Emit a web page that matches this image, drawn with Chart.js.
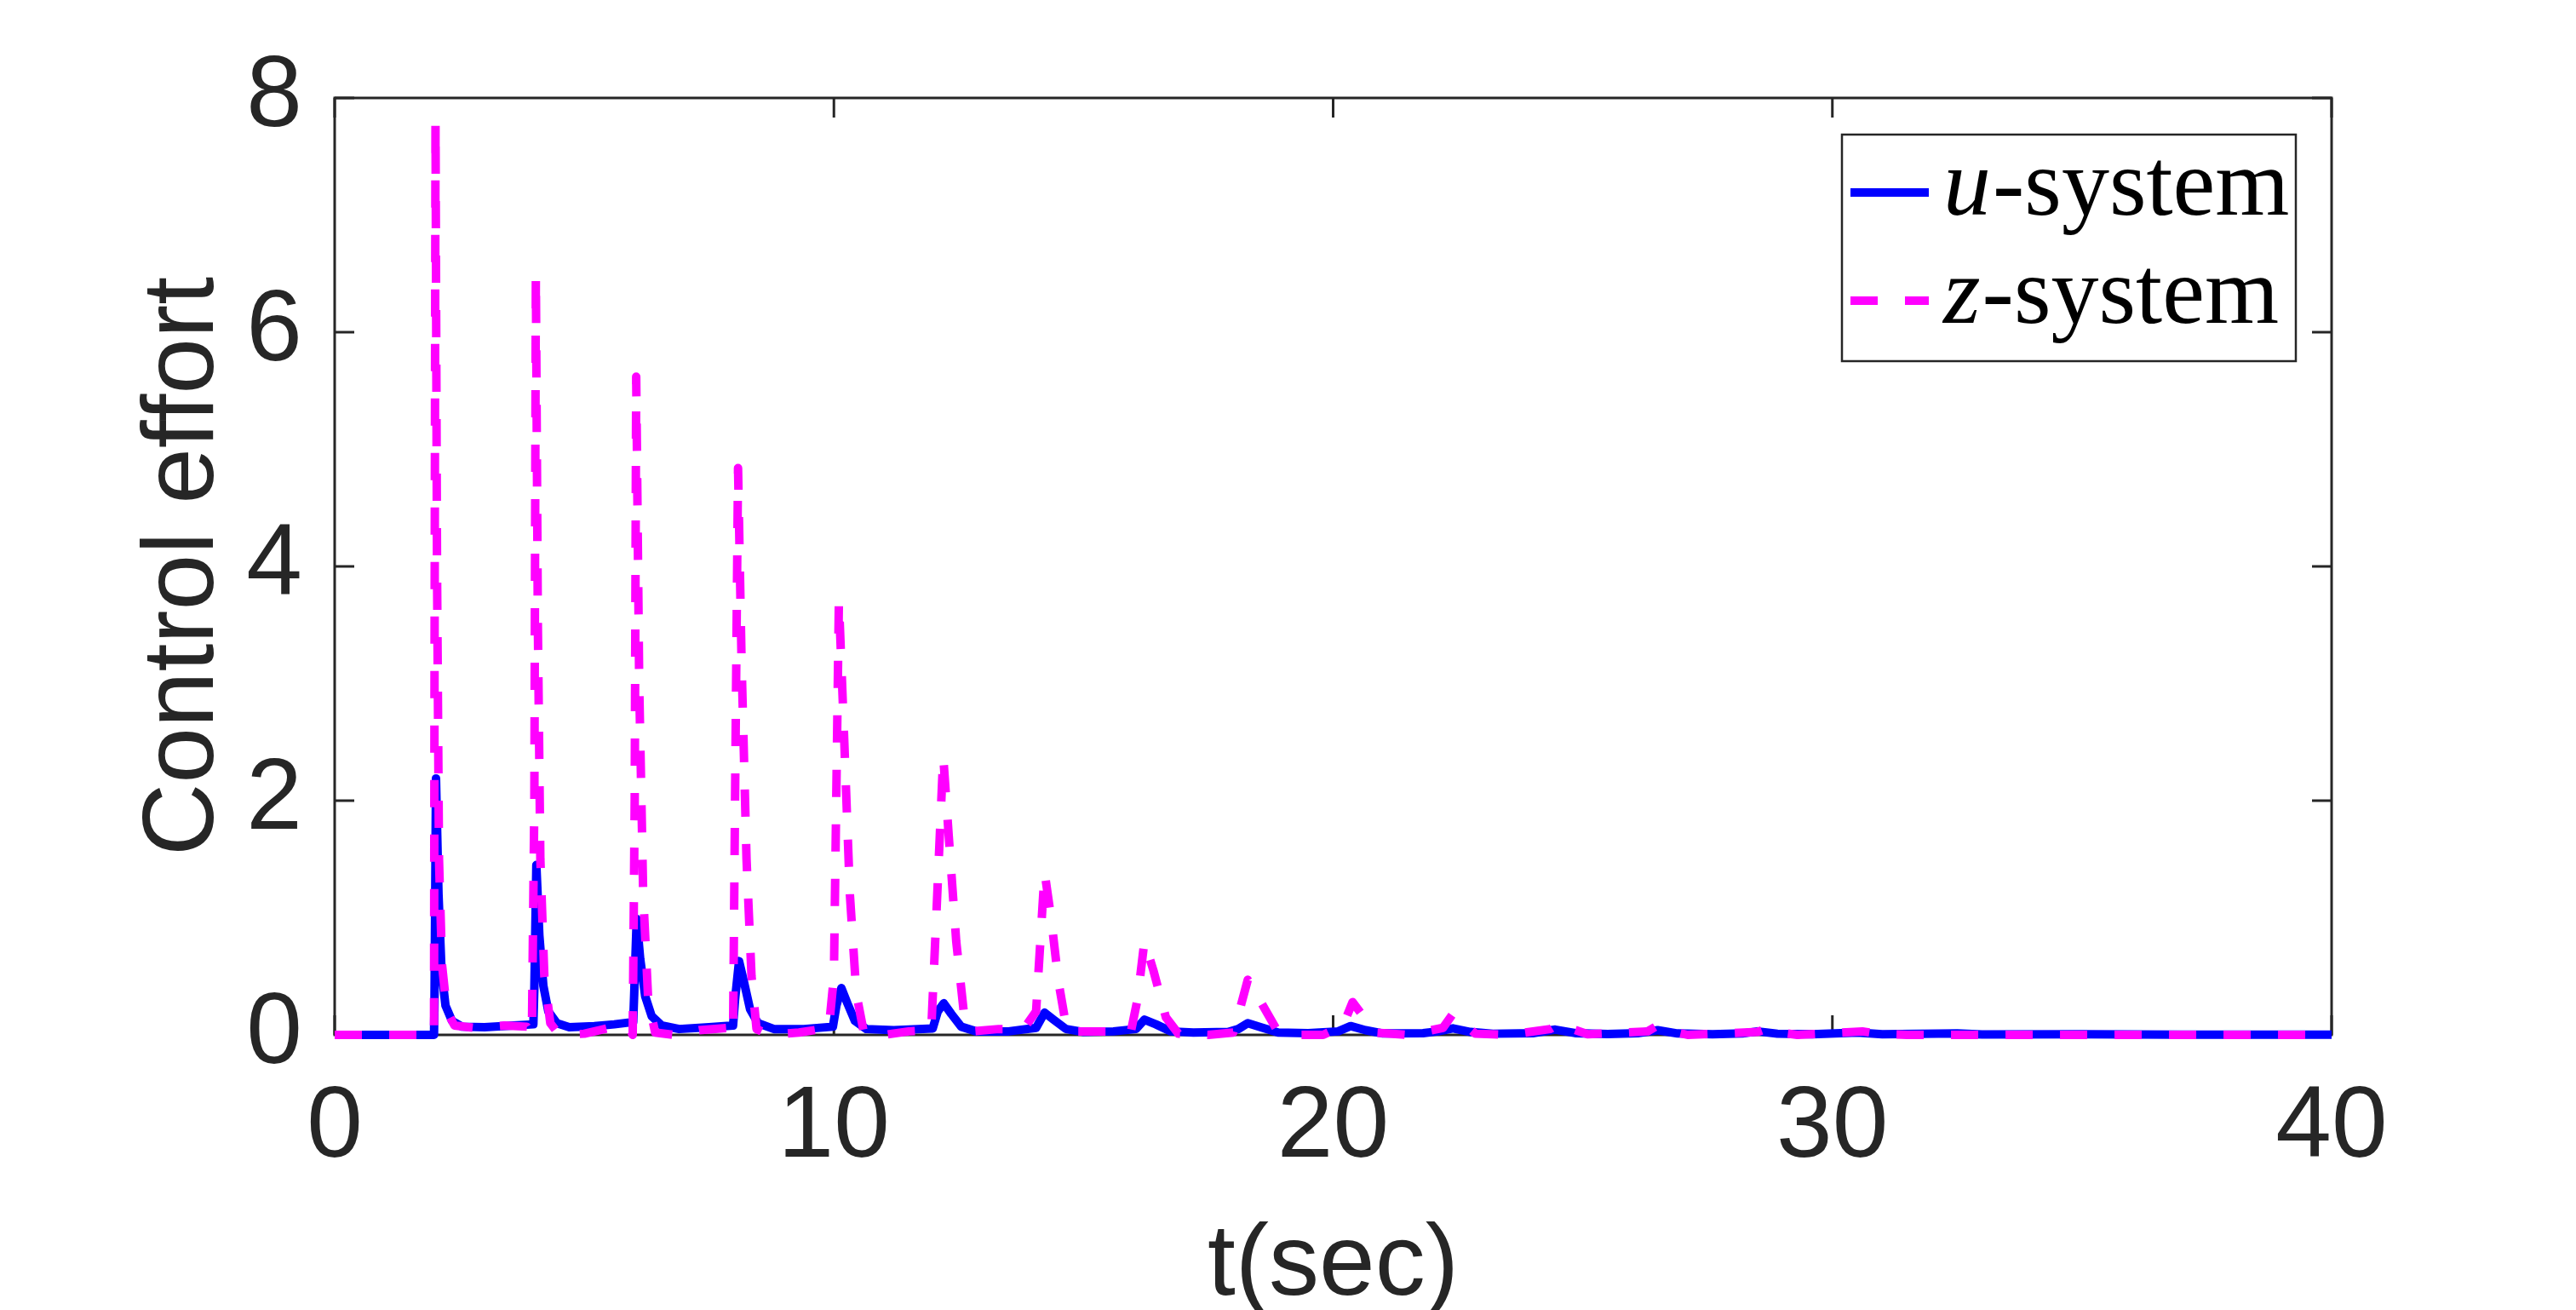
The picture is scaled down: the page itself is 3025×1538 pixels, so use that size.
<!DOCTYPE html>
<html>
<head>
<meta charset="utf-8">
<script src="https://cdn.jsdelivr.net/npm/chart.js@4.4.1/dist/chart.umd.min.js"></script>
<style>
  html, body { margin: 0; padding: 0; background: #fff; }
  canvas { display: block; }
</style>
</head>
<body>
<canvas id="myChart" width="3025" height="1538"></canvas>
<script>
// Valeurs
const uTime = [0, 1.99, 2.00, 2.03, 2.08, 2.14, 2.22, 2.35, 2.55, 3.0, 3.5, 3.98,
  4.00, 4.04, 4.10, 4.18, 4.28, 4.45, 4.7, 5.2, 5.6, 5.98,
  6.00, 6.05, 6.12, 6.22, 6.35, 6.55, 6.9, 7.5, 7.98,
  8.02, 8.10, 8.20, 8.32, 8.48, 8.8, 9.4, 9.98,
  10.05, 10.15, 10.27, 10.42, 10.65, 11.2, 11.98,
  12.08, 12.2, 12.35, 12.55, 12.85, 13.5, 14.05,
  14.22, 14.4, 14.65, 15.0, 15.6, 16.05,
  16.22, 16.45, 16.75, 17.2, 17.9, 18.1,
  18.29, 18.55, 18.9, 19.5, 20.1,
  20.35, 20.65, 21.0, 21.8, 22.1,
  22.4, 22.75, 23.2, 24.0, 24.45, 24.85, 25.5, 26.1, 26.5, 26.9, 27.6,
  28.2, 28.5, 28.9, 29.6, 30.5, 31.0, 32.5, 33.0, 35.0, 37.0, 40.0];
const uValues = [0, 0, 0.3, 2.19, 1.2, 0.55, 0.25, 0.12, 0.07, 0.065, 0.078, 0.09,
  0.4, 1.45, 0.85, 0.42, 0.2, 0.1, 0.065, 0.075, 0.09, 0.11,
  0.35, 0.99, 0.65, 0.33, 0.16, 0.08, 0.05, 0.065, 0.08,
  0.3, 0.63, 0.45, 0.22, 0.1, 0.05, 0.05, 0.07,
  0.25, 0.40, 0.27, 0.12, 0.05, 0.04, 0.055,
  0.2, 0.27, 0.18, 0.07, 0.03, 0.03, 0.06,
  0.19, 0.13, 0.05, 0.025, 0.03, 0.05,
  0.13, 0.09, 0.03, 0.02, 0.025, 0.05,
  0.10, 0.065, 0.02, 0.015, 0.03,
  0.075, 0.04, 0.012, 0.015, 0.03,
  0.056, 0.025, 0.01, 0.015, 0.045, 0.015, 0.008, 0.015, 0.04, 0.012, 0.006,
  0.012, 0.03, 0.01, 0.005, 0.02, 0.005, 0.012, 0.003, 0.005, 0.002, 0.001];

const zTime = [0, 1.99, 2.00, 2.02, 2.05, 2.09, 2.15, 2.25, 2.4, 2.8, 3.4, 3.85, 3.95,
  4.00, 4.03, 4.07, 4.12, 4.20, 4.32, 4.5, 5.0, 5.5, 5.9, 5.97,
  6.01, 6.04, 6.10, 6.18, 6.28, 6.42, 6.8, 7.3, 7.9, 7.98,
  8.02, 8.08, 8.15, 8.25, 8.35, 8.45, 8.7, 9.3, 9.9,
  10.0, 10.1, 10.2, 10.32, 10.45, 10.6, 11.0, 11.5, 11.95,
  12.05, 12.19, 12.3, 12.45, 12.6, 12.75, 13.3, 13.8,
  14.05, 14.22, 14.35, 14.5, 14.67, 15.0, 15.5, 15.95,
  16.08, 16.22, 16.4, 16.65, 16.9, 17.5, 18.0,
  18.12, 18.29, 18.5, 18.85, 19.2, 19.8,
  20.2, 20.39, 20.6, 20.85, 21.5,
  22.2, 22.4, 22.6, 22.85, 23.5,
  24.35, 24.57, 24.8, 25.1, 26.3, 26.5, 26.75, 27.1,
  28.5, 28.7, 28.95, 29.3, 30.6, 30.9, 31.5, 40.0];
const zValues = [0, 0, 3.0, 7.79, 4.0, 1.5, 0.6, 0.2, 0.08, 0.06, 0.08, 0.07, 0.0,
  2.0, 6.49, 3.5, 1.5, 0.5, 0.1, 0.0, 0.01, 0.06, 0.06, 0.0,
  2.0, 5.62, 3.0, 1.2, 0.3, 0.02, 0.0, 0.04, 0.06, 0.0,
  2.0, 4.84, 3.2, 1.5, 0.5, 0.05, 0.0, 0.02, 0.06,
  0.5, 3.71, 2.6, 1.2, 0.35, 0.02, 0.0, 0.03, 0.04,
  1.0, 2.38, 1.7, 0.8, 0.2, 0.03, 0.05, 0.05,
  0.2, 1.39, 1.0, 0.45, 0.03, 0.03, 0.03, 0.03,
  0.3, 0.80, 0.55, 0.15, 0.01, 0.0, 0.02,
  0.2, 0.47, 0.32, 0.06, 0.0, 0.0,
  0.08, 0.28, 0.16, 0.02, 0.0,
  0.06, 0.18, 0.1, 0.01, 0.0,
  0.05, 0.11, 0.05, 0.005, 0.03, 0.08, 0.035, 0.0,
  0.025, 0.056, 0.02, 0.0, 0.03, 0.01, 0.0, 0.0];

const xTickValues = [0, 10, 20, 30, 40];
const yTickValues = [0, 2, 4, 6, 8];
const seriesLabels = ['u', 'z'];

const axisColor = '#262626';
const tickFont = { family: 'Liberation Sans, Arial, sans-serif', size: 118 };

// Cadre et graduations vers l'intérieur (style MATLAB)
const boxPlugin = {
  id: 'matlabBox',
  beforeDatasetsDraw(chart) {
    const { ctx, chartArea: a, scales: { x, y } } = chart;
    ctx.save();
    ctx.strokeStyle = axisColor;
    ctx.lineWidth = 3;
    ctx.strokeRect(a.left, a.top, a.right - a.left, a.bottom - a.top);
    ctx.beginPath();
    xTickValues.forEach(v => {
      const px = x.getPixelForValue(v);
      ctx.moveTo(px, a.bottom); ctx.lineTo(px, a.bottom - 23);
      ctx.moveTo(px, a.top); ctx.lineTo(px, a.top + 23);
    });
    yTickValues.forEach(v => {
      const py = y.getPixelForValue(v);
      ctx.moveTo(a.left, py); ctx.lineTo(a.left + 23, py);
      ctx.moveTo(a.right, py); ctx.lineTo(a.right - 23, py);
    });
    ctx.stroke();
    ctx.restore();
  }
};

// Légende avec lettre en italique
const legendPlugin = {
  id: 'mathLegend',
  afterDraw(chart) {
    const { ctx } = chart;
    const bx = 2163, by = 158, bw = 533, bh = 266;
    ctx.save();
    ctx.fillStyle = '#fff';
    ctx.fillRect(bx, by, bw, bh);
    ctx.strokeStyle = '#262626';
    ctx.lineWidth = 2.5;
    ctx.strokeRect(bx, by, bw, bh);
    chart.data.datasets.forEach((ds, i) => {
      const ly = 226 + i * 127;
      ctx.beginPath();
      ctx.strokeStyle = ds.borderColor;
      ctx.lineWidth = ds.borderWidth;
      ctx.setLineDash(ds.borderDash || []);
      ctx.moveTo(2173, ly);
      ctx.lineTo(2265, ly);
      ctx.stroke();
      ctx.setLineDash([]);
      const base = 252 + i * 127;
      ctx.fillStyle = '#000';
      ctx.textBaseline = 'alphabetic';
      ctx.textAlign = 'left';
      ctx.font = 'italic 112px "Liberation Serif", "Times New Roman", serif';
      ctx.fillText(seriesLabels[i], 2282, base);
      const w = ctx.measureText(seriesLabels[i]).width;
      ctx.font = '112px "Liberation Serif", "Times New Roman", serif';
      ctx.fillText('-system', 2282 + w + 2, base);
    });
    ctx.restore();
  }
};

const ctx = document.getElementById('myChart').getContext('2d');
const myChart = new Chart(ctx, {
  type: 'line',
  data: {
    datasets: [{
      label: 'u-system',
      data: uTime.map((t, i) => ({ x: t, y: uValues[i] })),
      borderColor: '#0000ff',
      borderWidth: 10,
      order: 1
    }, {
      label: 'z-system',
      data: zTime.map((t, i) => ({ x: t, y: zValues[i] })),
      borderColor: '#ff00ff',
      borderWidth: 10,
      borderDash: [32, 32],
      order: 0
    }]
  },
  options: {
    responsive: false,
    animation: false,
    devicePixelRatio: 1,
    layout: { padding: { left: 0, right: 287, top: 115, bottom: 0 } },
    elements: {
      point: { radius: 0 },
      line: { tension: 0, borderJoinStyle: 'round', fill: false }
    },
    datasets: { line: { clip: 10 } },
    plugins: { legend: { display: false }, tooltip: { enabled: false } },
    events: [],
    scales: {
      x: {
        type: 'linear',
        min: 0, max: 40,
        afterBuildTicks: s => { s.ticks = xTickValues.map(v => ({ value: v })); },
        afterFit: s => { s.height = 323; },
        grid: { display: false, drawTicks: false },
        border: { display: false },
        ticks: { font: tickFont, color: axisColor, padding: 40, maxRotation: 0 },
        title: {
          display: true, text: 't(sec)', color: axisColor,
          font: { family: tickFont.family, size: 118, lineHeight: 0.85 }, padding: 0
        }
      },
      y: {
        type: 'linear',
        min: 0, max: 8,
        afterBuildTicks: s => { s.ticks = yTickValues.map(v => ({ value: v })); },
        afterFit: s => { s.width = 393; },
        grid: { display: false, drawTicks: false },
        border: { display: false },
        ticks: { font: tickFont, color: axisColor, padding: 38 },
        title: {
          display: true, text: 'Control effort', color: axisColor,
          font: { family: tickFont.family, size: 118, lineHeight: 1.2 }, padding: { top: 147, bottom: 0 }
        }
      }
    }
  },
  plugins: [boxPlugin, legendPlugin]
});
</script>
</body>
</html>
